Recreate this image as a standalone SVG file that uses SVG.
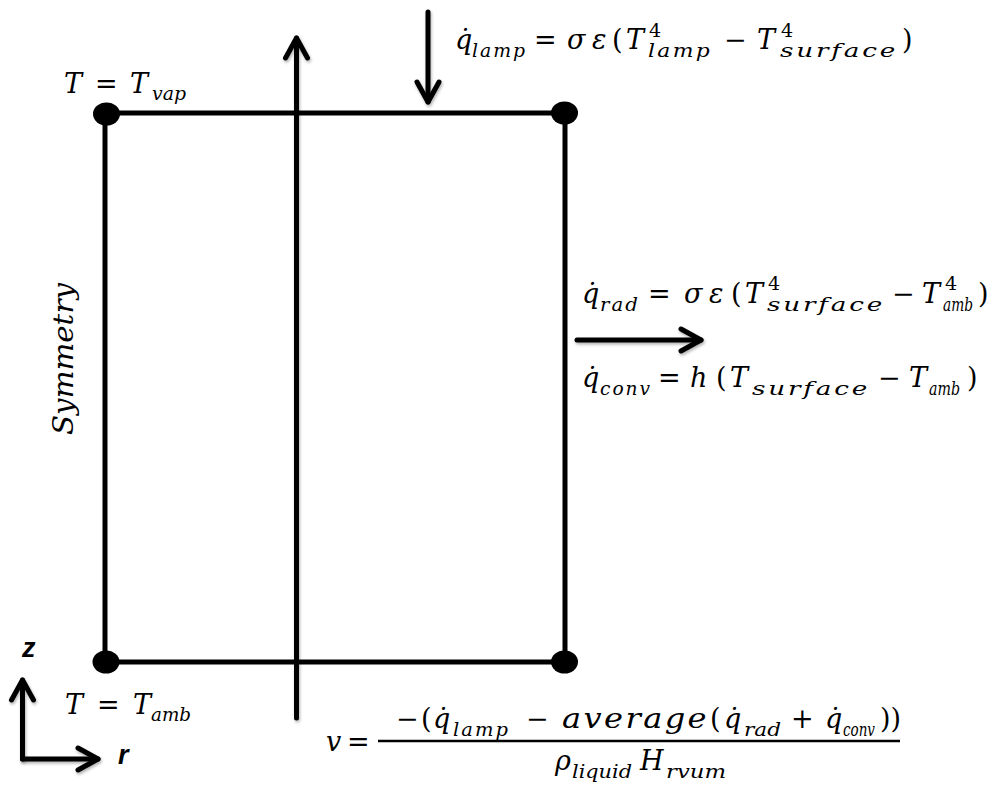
<svg xmlns="http://www.w3.org/2000/svg" width="988" height="786" viewBox="0 0 988 786">
<defs>
<style>
.ln{stroke:#000;stroke-width:5;fill:none;stroke-linecap:butt}
.ar{stroke:#000;stroke-width:5;fill:none;stroke-linecap:round;filter:url(#sh)}
.dot{fill:#000}
text{font-family:"DejaVu Serif",serif;fill:#000}
.m{font-size:27px;font-style:italic}
.u{font-style:normal}
.s{font-size:19px;font-style:italic;letter-spacing:2px}
.s0{font-size:19px;font-style:italic}
.w{letter-spacing:2px}
.su{font-size:19px;font-style:normal}
.ax{font-family:"Liberation Sans",Arial,sans-serif;font-weight:bold;font-style:italic;font-size:27px}
</style>
<filter id="sh" filterUnits="userSpaceOnUse" x="0" y="0" width="988" height="786">
<feDropShadow dx="1" dy="2" stdDeviation="1.5" flood-color="#000" flood-opacity="0.3"/>
</filter>
<marker id="ah" viewBox="-26 -16 32 32" refX="0" refY="0" markerWidth="32" markerHeight="32" markerUnits="userSpaceOnUse" orient="auto">
<path d="M-20,-11 L0,0 L-20,11" stroke="#000" stroke-width="5" fill="none" stroke-linecap="round" stroke-linejoin="round"/>
</marker>
</defs>
<rect width="988" height="786" fill="#fff"/>

<g id="domain">
<path class="ln" d="M105,113 H565 M105,662 H565 M105,113 V662 M565,113 V662"/>
</g>
<g id="corner-top-left"><ellipse class="dot" cx="106.5" cy="114" rx="13.5" ry="11.5"/></g>
<g id="corner-top-right"><ellipse class="dot" cx="564.5" cy="113" rx="13.5" ry="11.5"/></g>
<g id="corner-bottom-left"><ellipse class="dot" cx="106" cy="662" rx="13.5" ry="11.5"/></g>
<g id="corner-bottom-right"><ellipse class="dot" cx="564.5" cy="662" rx="13.5" ry="11.5"/></g>

<g id="connectors">
<line class="ar" x1="296.5" y1="718" x2="296.5" y2="38" marker-end="url(#ah)"/>
<line class="ar" x1="428" y1="12" x2="428" y2="102" marker-end="url(#ah)"/>
<line class="ar" x1="577" y1="340" x2="701" y2="340" marker-end="url(#ah)"/>
<line class="ar" x1="22.5" y1="759" x2="22.5" y2="680" marker-end="url(#ah)"/>
<line class="ar" x1="22.5" y1="759" x2="98" y2="759" marker-end="url(#ah)"/>
<line x1="378" y1="741" x2="900" y2="741" stroke="#000" stroke-width="2.5"/>
</g>

<g id="label-lamp">
<text class="m"><tspan x="455" y="49">q̇</tspan><tspan class="s" x="472" y="57" textLength="55" lengthAdjust="spacingAndGlyphs">lamp</tspan> <tspan class="u" x="534" y="49">=</tspan> <tspan x="567" y="49">σ</tspan> <tspan x="592" y="49">ε</tspan> <tspan class="u" x="612" y="49">(</tspan><tspan x="626" y="49">T</tspan><tspan class="su" x="649" y="37">4</tspan><tspan class="s" x="648" y="57" textLength="64" lengthAdjust="spacingAndGlyphs">lamp</tspan> <tspan class="u" x="724" y="49">−</tspan> <tspan x="757" y="49">T</tspan><tspan class="su" x="781" y="37">4</tspan><tspan class="s" x="780" y="57" textLength="118" lengthAdjust="spacingAndGlyphs">surface</tspan><tspan class="u" x="902" y="49">)</tspan></text>
</g>

<g id="label-tvap">
<text class="m"><tspan x="64" y="93">T</tspan> <tspan class="u" x="95" y="93">=</tspan> <tspan x="130" y="93">T</tspan><tspan class="s0" x="152" y="100" textLength="34" lengthAdjust="spacingAndGlyphs">vap</tspan></text>
</g>

<g id="label-symmetry">
<text class="m" transform="translate(73,359) rotate(-90)" text-anchor="middle" textLength="152" lengthAdjust="spacingAndGlyphs">Symmetry</text>
</g>

<g id="label-rad">
<text class="m"><tspan x="582" y="303">q̇</tspan><tspan class="s" x="600" y="311" textLength="40" lengthAdjust="spacingAndGlyphs">rad</tspan> <tspan class="u" x="648" y="303">=</tspan> <tspan x="684" y="303">σ</tspan> <tspan x="709" y="303">ε</tspan> <tspan class="u" x="731" y="303">(</tspan><tspan x="745" y="303">T</tspan><tspan class="su" x="768" y="290">4</tspan><tspan class="s" x="767" y="311" textLength="118" lengthAdjust="spacingAndGlyphs">surface</tspan> <tspan class="u" x="892" y="303">−</tspan> <tspan x="922" y="303">T</tspan><tspan class="su" x="945" y="290">4</tspan><tspan class="s0" x="943" y="311" textLength="30" lengthAdjust="spacingAndGlyphs">amb</tspan><tspan class="u" x="978" y="303">)</tspan></text>
</g>

<g id="label-conv">
<text class="m"><tspan x="582" y="387">q̇</tspan><tspan class="s" x="600" y="395" textLength="52" lengthAdjust="spacingAndGlyphs">conv</tspan> <tspan class="u" x="658" y="387">=</tspan> <tspan x="690" y="387">h</tspan> <tspan class="u" x="716" y="387">(</tspan><tspan x="730" y="387">T</tspan><tspan class="s" x="752" y="395" textLength="118" lengthAdjust="spacingAndGlyphs">surface</tspan> <tspan class="u" x="878" y="387">−</tspan> <tspan x="909" y="387">T</tspan><tspan class="s0" x="929" y="395" textLength="31" lengthAdjust="spacingAndGlyphs">amb</tspan><tspan class="u" x="967" y="387">)</tspan></text>
</g>

<g id="label-tamb">
<text class="m"><tspan x="65" y="714">T</tspan> <tspan class="u" x="97" y="714">=</tspan> <tspan x="133" y="714">T</tspan><tspan class="s0" x="151" y="721" textLength="40" lengthAdjust="spacingAndGlyphs">amb</tspan></text>
</g>

<g id="label-velocity">
<text class="m"><tspan x="326" y="751">v</tspan> <tspan class="u" x="347" y="751">=</tspan></text>
<text class="m"><tspan class="u" x="396" y="728">−</tspan><tspan class="u" x="421" y="728">(</tspan><tspan x="433" y="728">q̇</tspan><tspan class="s" x="453" y="736" textLength="57" lengthAdjust="spacingAndGlyphs">lamp</tspan> <tspan class="u" x="526" y="728">−</tspan> <tspan class="w" x="562" y="728" textLength="147" lengthAdjust="spacingAndGlyphs">average</tspan><tspan class="u" x="710" y="728">(</tspan><tspan x="724" y="728">q̇</tspan><tspan class="s0" x="744" y="736" textLength="37" lengthAdjust="spacingAndGlyphs">rad</tspan> <tspan class="u" x="791" y="728">+</tspan> <tspan x="825" y="728">q̇</tspan><tspan class="s0" x="843" y="736" textLength="32" lengthAdjust="spacingAndGlyphs">conv</tspan><tspan class="u" x="880" y="728">))</tspan></text>
<text class="m"><tspan x="555" y="770">ρ</tspan><tspan class="s0" x="572" y="778" textLength="60" lengthAdjust="spacingAndGlyphs">liquid</tspan> <tspan x="640" y="770">H</tspan><tspan class="s0" x="666" y="778" textLength="60" lengthAdjust="spacingAndGlyphs">rvum</tspan></text>
</g>

<g id="axis-labels">
<text class="ax" x="22" y="657">z</text>
<text class="ax" x="118" y="764">r</text>
</g>
</svg>
